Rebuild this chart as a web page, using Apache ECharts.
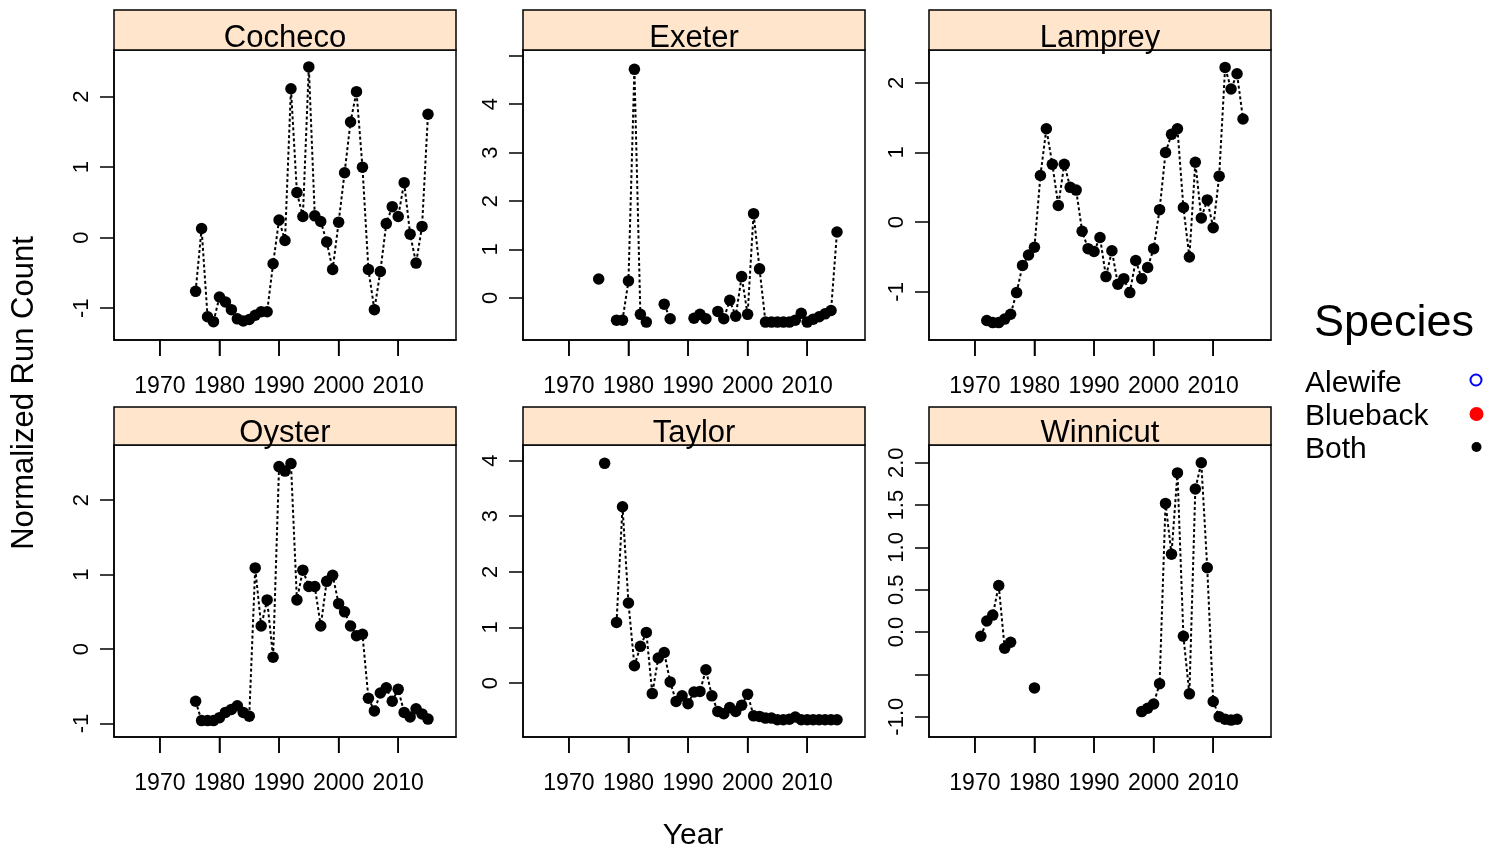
<!DOCTYPE html>
<html>
<head>
    <meta charset="utf-8">
    <title>Normalized Run Count</title>
    <script src="https://cdn.jsdelivr.net/npm/echarts@6/dist/echarts.min.js"></script>
    <style>
        html, body { margin: 0; padding: 0; background: #fff; }
        #main { width: 1499px; height: 855px; }
    </style>
</head>
<body>
    <div id="main"></div>
    <script>
        // years shared by all rivers, null = no count that year
        var years = [1971, 1972, 1973, 1974, 1975, 1976, 1977, 1978, 1979, 1980,
            1981, 1982, 1983, 1984, 1985, 1986, 1987, 1988, 1989, 1990,
            1991, 1992, 1993, 1994, 1995, 1996, 1997, 1998, 1999, 2000,
            2001, 2002, 2003, 2004, 2005, 2006, 2007, 2008, 2009, 2010,
            2011, 2012, 2013, 2014, 2015];

        var cocheco = [null, null, null, null, null, -0.76, 0.13, -1.12, -1.19, -0.84,
            -0.91, -1.02, -1.15, -1.18, -1.16, -1.10, -1.05, -1.05, -0.37, 0.25,
            -0.04, 2.11, 0.64, 0.30, 2.42, 0.31, 0.23, -0.06, -0.45, 0.22,
            0.92, 1.64, 2.07, 1.00, -0.45, -1.02, -0.48, 0.20, 0.44, 0.30,
            0.78, 0.05, -0.36, 0.16, 1.75];
        var exeter = [null, null, null, null, 0.39, null, null, -0.46, -0.46, 0.35,
            4.72, -0.34, -0.50, null, null, -0.13, -0.43, null, null, null,
            -0.42, -0.34, -0.43, null, -0.28, -0.43, -0.05, -0.38, 0.44, -0.34,
            1.74, 0.60, -0.50, -0.50, -0.50, -0.50, -0.50, -0.46, -0.32, -0.50,
            -0.44, -0.39, -0.33, -0.26, 1.36];
        var lamprey = [null, -1.41, -1.44, -1.44, -1.39, -1.32, -1.01, -0.62, -0.47, -0.36,
            0.67, 1.34, 0.83, 0.24, 0.83, 0.50, 0.46, -0.13, -0.38, -0.42,
            -0.22, -0.78, -0.41, -0.89, -0.81, -1.01, -0.55, -0.81, -0.65, -0.38,
            0.18, 1.00, 1.26, 1.34, 0.21, -0.50, 0.86, 0.06, 0.32, -0.08,
            0.66, 2.22, 1.91, 2.13, 1.48];
        var oyster = [null, null, null, null, null, -0.70, -0.96, -0.96, -0.96, -0.92,
            -0.85, -0.81, -0.76, -0.85, -0.90, 1.09, 0.31, 0.66, -0.11, 2.45,
            2.39, 2.49, 0.66, 1.06, 0.84, 0.84, 0.31, 0.91, 0.99, 0.61,
            0.50, 0.31, 0.18, 0.20, -0.66, -0.83, -0.59, -0.52, -0.70, -0.54,
            -0.85, -0.91, -0.80, -0.87, -0.94];
        var taylor = [null, null, null, null, null, 3.95, null, 1.09, 3.17, 1.44,
            0.31, 0.66, 0.91, -0.19, 0.45, 0.55, 0.02, -0.33, -0.23, -0.37,
            -0.16, -0.15, 0.24, -0.23, -0.51, -0.55, -0.44, -0.51, -0.40, -0.20,
            -0.59, -0.60, -0.63, -0.63, -0.66, -0.66, -0.65, -0.61, -0.66, -0.66,
            -0.66, -0.66, -0.66, -0.66, -0.66];
        var winnicut = [-0.05, 0.13, 0.20, 0.55, -0.19, -0.12, null, null, null, -0.66,
            null, null, null, null, null, null, null, null, null, null,
            null, null, null, null, null, null, null, -0.94, -0.90, -0.85,
            -0.61, 1.52, 0.92, 1.88, -0.05, -0.73, 1.69, 2.00, 0.76, -0.82,
            -1.00, -1.03, -1.04, -1.03, null];

        var rivers = ['Cocheco', 'Exeter', 'Lamprey', 'Oyster', 'Taylor', 'Winnicut'];
        var values = [cocheco, exeter, lamprey, oyster, taylor, winnicut];

        // axis ranges and ticks of each panel
        var yMin = [-1.45, -0.87, -1.69, -1.18, -0.97, -1.24];
        var yMax = [2.66, 5.12, 2.47, 2.74, 4.28, 2.21];
        var yTicks = [[-1, 0, 1, 2], [0, 1, 2, 3, 4, 5], [-1, 0, 1, 2],
            [-1, 0, 1, 2], [0, 1, 2, 3, 4], [-1, -0.5, 0, 0.5, 1, 1.5, 2]];
        var yLabels = [[-1, 0, 1, 2], [0, 1, 2, 3, 4], [-1, 0, 1, 2],
            [-1, 0, 1, 2], [0, 1, 2, 3, 4], [-1, 0, 0.5, 1, 1.5, 2]];
        var xTicks = [1970, 1980, 1990, 2000, 2010];
        var speciesNames = ['Alewife', 'Blueback', 'Both'];

        var FONT = 'Liberation Sans';
        var colLeft = [114, 523, 929];
        var panelW = 342;
        var rowTop = [50, 445];
        var rowH = [290, 292];
        var stripTop = [10, 407];

        var chart = echarts.init(document.getElementById('main'));

        var grids = [], xAxes = [], yAxes = [], series = [], graphics = [];

        rivers.forEach(function (name, i) {
            var c = i % 3, r = Math.floor(i / 3);
            grids.push({
                left: colLeft[c], top: rowTop[r], width: panelW, height: rowH[r],
                show: true, borderColor: '#000', borderWidth: 1.5
            });
            xAxes.push({
                gridIndex: i, type: 'value', min: 1962.3, max: 2019.7,
                axisLine: { show: true, onZero: false, lineStyle: { color: '#000', width: 1.5 } },
                axisTick: { show: true, length: 16, lineStyle: { color: '#000', width: 1.5 }, customValues: xTicks },
                axisLabel: {
                    show: true, margin: 35, fontSize: 23, color: '#000', fontFamily: FONT,
                    showMinLabel: false, showMaxLabel: false,
                    formatter: function (v) { return xTicks.indexOf(v) >= 0 ? String(v) : ''; }
                },
                splitLine: { show: false }
            });
            yAxes.push({
                gridIndex: i, type: 'value', min: yMin[i], max: yMax[i],
                axisLine: { show: true, onZero: false, lineStyle: { color: '#000', width: 1.5 } },
                axisTick: { show: true, length: 14, lineStyle: { color: '#000', width: 1.5 }, customValues: yTicks[i] },
                axisLabel: {
                    show: true, rotate: 90, margin: 21, fontSize: 22, color: '#000', fontFamily: FONT,
                    customValues: yLabels[i],
                    formatter: function (v) { return name === 'Winnicut' ? v.toFixed(1) : String(v); }
                },
                splitLine: { show: false }
            });
            series.push({
                name: 'Both', type: 'line', xAxisIndex: i, yAxisIndex: i,
                data: years.map(function (y, k) { return [y, values[i][k] === null ? '-' : values[i][k]]; }),
                connectNulls: false,
                symbol: 'circle', symbolSize: 11.5,
                itemStyle: { color: '#000' },
                lineStyle: { color: '#000', width: 2, type: [3, 2.5] },
                animation: false
            });
            // outward year ticks below the panel, placed by the axis scale
            series.push({
                name: 'yearTicks', type: 'custom', xAxisIndex: i, yAxisIndex: i,
                clip: false, silent: true, z: 10, animation: false,
                data: xTicks.map(function (t) { return [t, yMin[i]]; }),
                renderItem: function (params, api) {
                    var p = api.coord([api.value(0), api.value(1)]);
                    return {
                        type: 'line',
                        shape: { x1: p[0], y1: p[1], x2: p[0], y2: p[1] + 16 },
                        style: { stroke: '#000', lineWidth: 1.5 }
                    };
                }
            });
            // strip above panel
            graphics.push({
                type: 'rect',
                shape: { x: colLeft[c], y: stripTop[r], width: panelW, height: rowTop[r] - stripTop[r] },
                style: { fill: '#FFE5CC', stroke: '#000', lineWidth: 1.5 }
            });
            graphics.push({
                type: 'text',
                x: colLeft[c] + panelW / 2, y: rowTop[r] - 12,
                style: { text: name, fontSize: 31, fontFamily: FONT, fill: '#000', align: 'center', verticalAlign: 'middle' }
            });
        });

        graphics.push({
            type: 'text', x: 24, y: 393, rotation: Math.PI / 2,
            style: { text: 'Normalized Run Count', fontSize: 31, fontFamily: FONT, fill: '#000', align: 'center', verticalAlign: 'middle' }
        });
        graphics.push({
            type: 'text', x: 693, y: 836,
            style: { text: 'Year', fontSize: 30, fontFamily: FONT, fill: '#000', align: 'center', verticalAlign: 'middle' }
        });

        // legend
        graphics.push({
            type: 'text', x: 1394, y: 324,
            style: { text: 'Species', fontSize: 45, fontFamily: FONT, fill: '#000', align: 'center', verticalAlign: 'middle' }
        });
        var legY = [384, 417, 450];
        speciesNames.forEach(function (s, k) {
            graphics.push({
                type: 'text', x: 1305, y: legY[k],
                style: { text: s, fontSize: 30, fontFamily: FONT, fill: '#000', align: 'left', verticalAlign: 'middle' }
            });
        });
        graphics.push({ type: 'circle', shape: { cx: 1476, cy: 380, r: 5.5 }, style: { fill: 'none', stroke: '#0000FF', lineWidth: 2 } });
        graphics.push({ type: 'circle', shape: { cx: 1476.5, cy: 414, r: 7 }, style: { fill: '#FF0000' } });
        graphics.push({ type: 'circle', shape: { cx: 1476.5, cy: 447, r: 5 }, style: { fill: '#000' } });

        var option = {
            animation: false,
            grid: grids,
            xAxis: xAxes,
            yAxis: yAxes,
            series: series,
            graphic: graphics
        };

        option && chart.setOption(option);
    </script>
</body>
</html>
